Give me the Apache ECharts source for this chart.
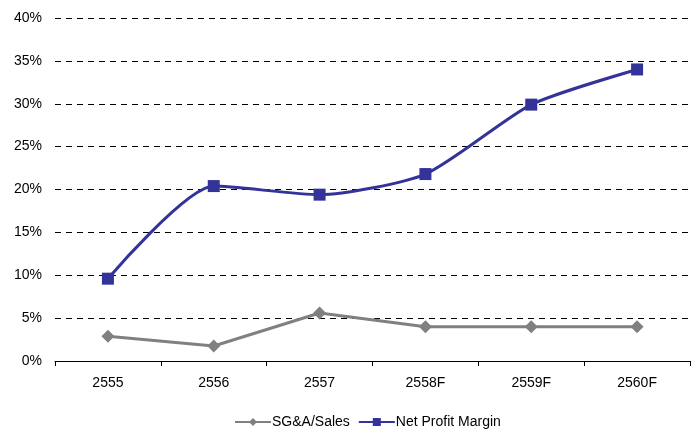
<!DOCTYPE html>
<html><head><meta charset="utf-8">
<script src="https://cdn.jsdelivr.net/npm/echarts@6/dist/echarts.min.js"></script>
<style>html,body{margin:0;padding:0;background:#fff}#c{width:699px;height:430px}</style>
</head><body><div id="c"></div>
<script>
const categories = ['2555','2556','2557','2558F','2559F','2560F'];
const sgaSales = [2.9, 1.75, 5.6, 4.0, 4.0, 4.0];
const netProfitMargin = [9.6, 20.4, 19.4, 21.8, 29.9, 34.0];
const yTicks = [0,5,10,15,20,25,30,35,40];

const chart = echarts.init(document.getElementById('c'), null, {renderer:'canvas'});
chart.setOption({
  animation:false,
  textStyle:{fontFamily:'Liberation Sans, Arial, sans-serif'},
  grid:{left:55,right:9,top:18,bottom:69},
  legend:{
    bottom:1, left:234, padding:0, itemGap:8, itemWidth:36, itemHeight:10,
    textStyle:{fontSize:14,color:'#000',fontFamily:'Liberation Sans, Arial, sans-serif',padding:[0,0,0,-4]},
    data:['SG&A/Sales','Net Profit Margin']
  },
  xAxis:{
    type:'category', data:categories, boundaryGap:true,
    axisLine:{lineStyle:{color:'#000',width:1}},
    axisTick:{show:true,length:5,inside:false,lineStyle:{color:'#000'}},
    axisLabel:{color:'#000',fontSize:14,margin:15}
  },
  yAxis:{
    type:'value', min:yTicks[0], max:yTicks[yTicks.length-1], interval:5,
    axisLine:{show:false}, axisTick:{show:false},
    axisLabel:{color:'#000',fontSize:14,margin:13,formatter:v=>v+'%'},
    splitLine:{show:true,lineStyle:{color:'#000',type:[6,5],width:1}}
  },
  series:[
    {name:'SG&A/Sales',type:'line',data:sgaSales,color:'#808080',
     symbol:'diamond',symbolSize:13,lineStyle:{width:3,color:'#808080'},itemStyle:{color:'#808080'}},
    {name:'Net Profit Margin',type:'line',data:netProfitMargin,smooth:0.22,color:'#333399',
     symbol:'rect',symbolSize:12,lineStyle:{width:3,color:'#333399'},itemStyle:{color:'#333399'}}
  ]
});
</script></body></html>
